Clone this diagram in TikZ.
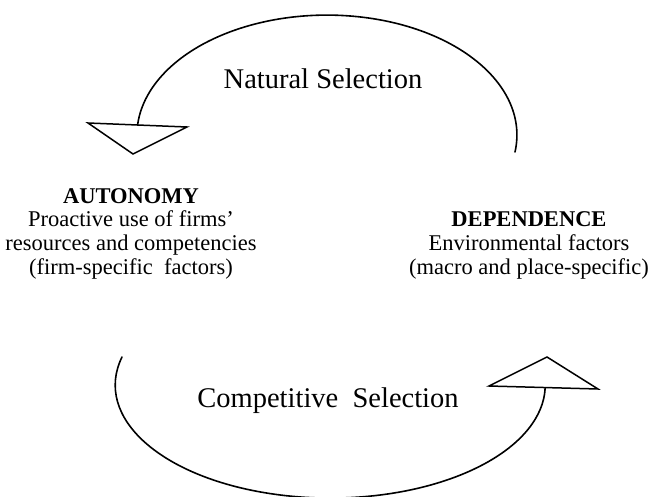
\documentclass[tikz,border=0pt]{standalone}
\usepackage{fontspec}
\setmainfont{Liberation Serif}
\begin{document}
\begin{tikzpicture}[x=1pt,y=-1pt,
  curve/.style={line width=1.6pt,line cap=round},
  headtri/.style={line width=1.5pt,line join=miter},
  biglabel/.style={inner sep=0pt,anchor=base,font=\fontsize{28.5}{30}\selectfont},
  sideblock/.style={inner sep=0pt,align=center,anchor=base,
    font=\fontsize{22.5}{23.6}\selectfont}]
\useasboundingbox (0,0) rectangle (652,497);

% upper loop: from the right, over the top, into the left arrowhead
\coordinate (topStart) at (515,152);
\draw[curve] (topStart) arc[start angle=8.1,end angle=-175.2,x radius=190,y radius=120]
  coordinate (topEnd);
\coordinate (tlA) at (88,123);
\coordinate (tlB) at (187,127);
\coordinate (tlC) at (133,154);
\draw[headtri] (tlA) -- (tlB) -- (tlC) -- cycle;

% lower loop: from the left, under the bottom, into the right arrowhead
\coordinate (botStart) at (122,357);
\draw[curve] (botStart) arc[start angle=194.4,end angle=1.5,x radius=215,y radius=113]
  coordinate (botEnd);
\coordinate (brA) at (489,386);
\coordinate (brB) at (598,389);
\coordinate (brC) at (547,357);
\draw[headtri] (brA) -- (brB) -- (brC) -- cycle;

% labels
\node[biglabel] (natural) at (323,89) {Natural Selection};
\node[biglabel] (competitive) at (328,407) {Competitive\ \ Selection};

% the base anchor of a multi-line block sits on its last line
\node[sideblock] (autonomy) at (131,274)
  {\textbf{AUTONOMY}\\Proactive use of firms’\\resources and competencies\\(firm-specific\ \ factors)};
\node[sideblock] (dependence) at (529,274)
  {\textbf{DEPENDENCE}\\Environmental factors\\(macro and place-specific)};
\end{tikzpicture}
\end{document}
